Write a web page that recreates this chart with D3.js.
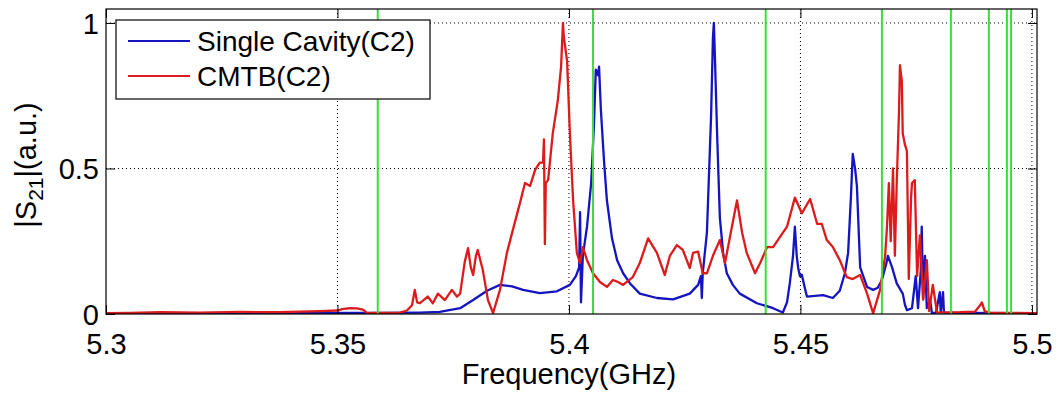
<!DOCTYPE html>
<html>
<head>
<meta charset="utf-8">
<script src="https://cdn.jsdelivr.net/npm/d3@7"></script>
<style>
  body { margin: 0; background: #fff; }
  svg { display: block; font-family: "Liberation Sans", Arial, sans-serif; }
</style>
</head>
<body>
<svg id="drawing_region"></svg>
<script>
// frequency (GHz) and |S21| readings, single cavity
const singleFreq = [5.3, 5.3203, 5.3419, 5.3592, 5.3678, 5.3721, 5.3765, 5.3793, 5.3823, 5.3851,
    5.3877, 5.3901, 5.3937, 5.3974, 5.4002, 5.4015, 5.4022, 5.4024, 5.4026, 5.4030,
    5.4039, 5.4048, 5.4054, 5.4058, 5.4063, 5.4065, 5.4069, 5.4076, 5.4082, 5.4093,
    5.4104, 5.4117, 5.4132, 5.4153, 5.4190, 5.4225, 5.4261, 5.4279, 5.4285, 5.4287,
    5.4289, 5.4298, 5.4307, 5.4311, 5.4313, 5.4315, 5.4320, 5.4326, 5.4333, 5.4341,
    5.4354, 5.4369, 5.4406, 5.4441, 5.4462, 5.4471, 5.4477, 5.4484, 5.4488, 5.4492,
    5.4495, 5.4499, 5.4503, 5.4508, 5.4514, 5.4549, 5.4570, 5.4585, 5.4596, 5.4603,
    5.4609, 5.4613, 5.4618, 5.4622, 5.4629, 5.4644, 5.4657, 5.4667, 5.4676, 5.4685,
    5.4689, 5.4698, 5.4708, 5.4721, 5.4726, 5.4730, 5.4741, 5.4749, 5.4754, 5.4760,
    5.4762, 5.4765, 5.4769, 5.4773, 5.4780, 5.4784, 5.4793, 5.4801, 5.4803, 5.4808,
    5.4810, 5.4844, 5.5011];
const singleVal = [0.003, 0.003, 0.004, 0.004, 0.005, 0.007, 0.02, 0.048, 0.08, 0.1,
    0.095, 0.083, 0.072, 0.078, 0.1, 0.13, 0.16, 0.35, 0.04, 0.2,
    0.3, 0.45, 0.65, 0.84, 0.82, 0.85, 0.7, 0.52, 0.39, 0.26,
    0.185, 0.14, 0.105, 0.07, 0.055, 0.05, 0.07, 0.1, 0.13, 0.055,
    0.14, 0.28, 0.68, 0.95, 1.0, 0.9, 0.62, 0.33, 0.21, 0.14,
    0.1, 0.07, 0.037, 0.02, 0.005, 0.04, 0.105, 0.2, 0.3, 0.2,
    0.16, 0.13, 0.135, 0.1, 0.06, 0.065, 0.055, 0.08, 0.14, 0.21,
    0.4, 0.55, 0.5, 0.44, 0.16, 0.093, 0.083, 0.09, 0.117, 0.17,
    0.2, 0.16, 0.105, 0.07, 0.03, 0.013, 0.02, 0.13, 0.02, 0.15,
    0.3, 0.05, 0.2, 0.02, 0.05, 0.003, 0.005, 0.075, 0.005, 0.075,
    0.005, 0.004, 0.003];

// frequency (GHz) and |S21| readings, CMTB
const cmtbFreq = [5.3, 5.3052, 5.3117, 5.3203, 5.3289, 5.3376, 5.3419, 5.3462, 5.3501, 5.3510,
    5.3527, 5.3542, 5.3555, 5.3564, 5.3577, 5.3635, 5.3650, 5.3661, 5.3667, 5.3672,
    5.3678, 5.3695, 5.3706, 5.3717, 5.3732, 5.3747, 5.3758, 5.3765, 5.3775, 5.3782,
    5.3788, 5.3793, 5.3799, 5.3803, 5.3814, 5.3825, 5.3836, 5.3851, 5.3866, 5.3879,
    5.3894, 5.3905, 5.3916, 5.3927, 5.3937, 5.3944, 5.3946, 5.3948, 5.3950, 5.3955,
    5.3965, 5.3976, 5.3983, 5.3987, 5.3989, 5.3996, 5.4002, 5.4009, 5.4017, 5.4024,
    5.4030, 5.4039, 5.4052, 5.4067, 5.4082, 5.4095, 5.4106, 5.4117, 5.4138, 5.4153,
    5.4171, 5.4190, 5.4207, 5.4218, 5.4233, 5.4246, 5.4261, 5.4268, 5.4279, 5.4289,
    5.4298, 5.4311, 5.4326, 5.4337, 5.4352, 5.4363, 5.4374, 5.4384, 5.4402, 5.4413,
    5.4428, 5.4441, 5.4456, 5.4471, 5.4488, 5.4503, 5.4521, 5.4536, 5.4546, 5.4557,
    5.4570, 5.4585, 5.4600, 5.4613, 5.4629, 5.4644, 5.4657, 5.4672, 5.4683, 5.4687,
    5.4691, 5.4695, 5.4700, 5.4704, 5.4708, 5.4713, 5.4715, 5.4719, 5.4721, 5.4726,
    5.4730, 5.4734, 5.4739, 5.4741, 5.4747, 5.4752, 5.4758, 5.4765, 5.4773, 5.4778,
    5.4786, 5.4795, 5.4844, 5.4877, 5.4888, 5.4892, 5.4898, 5.4909, 5.5011];
const cmtbVal = [0.003, 0.004, 0.006, 0.005, 0.007, 0.006, 0.008, 0.01, 0.012, 0.017,
    0.02, 0.019, 0.015, 0.003, 0.004, 0.005, 0.012, 0.03, 0.083, 0.04,
    0.037, 0.06, 0.037, 0.07, 0.048, 0.083, 0.06, 0.07, 0.18, 0.226,
    0.16, 0.134, 0.2, 0.22, 0.15, 0.048, 0.003, 0.083, 0.21, 0.29,
    0.38, 0.45, 0.44, 0.495, 0.52, 0.52, 0.6, 0.24, 0.45, 0.46,
    0.62, 0.735, 0.85, 1.0, 0.95, 0.87, 0.62, 0.39, 0.21, 0.175,
    0.23, 0.185, 0.14, 0.11, 0.093, 0.117, 0.11, 0.1, 0.127, 0.175,
    0.26, 0.21, 0.134, 0.2, 0.237, 0.22, 0.158, 0.21, 0.214, 0.14,
    0.14, 0.2, 0.254, 0.175, 0.3, 0.39, 0.28, 0.21, 0.14, 0.175,
    0.23, 0.23, 0.265, 0.3, 0.4, 0.346, 0.395, 0.31, 0.31, 0.254,
    0.23, 0.185, 0.127, 0.12, 0.134, 0.07, 0.002, 0.083, 0.2, 0.3,
    0.45, 0.25, 0.5, 0.2, 0.45, 0.7, 0.855, 0.8, 0.62, 0.58,
    0.56, 0.12, 0.4, 0.45, 0.46, 0.13, 0.27, 0.05, 0.185, 0.01,
    0.1, 0.005, 0.006, 0.008, 0.03, 0.04, 0.01, 0.004, 0.003];

// green marker lines (GHz)
const markerFreq = [5.3587, 5.4052, 5.4425, 5.4676, 5.4825, 5.4907, 5.4946, 5.4955];

const xTicks = [5.3, 5.35, 5.4, 5.45, 5.5];
const xTickLabels = ['5.3', '5.35', '5.4', '5.45', '5.5'];
const yTicks = [0, 0.5, 1];
const yTickLabels = ['0', '0.5', '1'];

const seriesNames = ['Single Cavity(C2)', 'CMTB(C2)'];

const config = {
    width: 1063,
    height: 395,
    margin: {top: 9, right: 26, bottom: 81, left: 106}
};

const svg = d3.select('#drawing_region')
    .attr('width', config.width)
    .attr('height', config.height);

const inner_width = config.width - config.margin.left - config.margin.right;
const inner_height = config.height - config.margin.top - config.margin.bottom;

const chart = svg.append('g')
    .attr('transform', `translate(${config.margin.left}, ${config.margin.top})`);

const xmax = 5.5011;
const ymax = 1.048;
const xscale = d3.scaleLinear().domain([5.3, xmax]).range([0, inner_width]);
const yscale = d3.scaleLinear().domain([0, ymax]).range([inner_height, 0]);

// grid
chart.append('g')
    .selectAll('line')
    .data(xTicks.slice(1))
    .join('line')
    .attr('x1', d => xscale(d)).attr('x2', d => xscale(d))
    .attr('y1', 0).attr('y2', inner_height)
    .attr('stroke', '#000').attr('stroke-width', 1)
    .attr('stroke-dasharray', '1,3');

chart.append('g')
    .selectAll('line')
    .data(yTicks.slice(1))
    .join('line')
    .attr('x1', 0).attr('x2', inner_width)
    .attr('y1', d => yscale(d)).attr('y2', d => yscale(d))
    .attr('stroke', '#000').attr('stroke-width', 1)
    .attr('stroke-dasharray', '1,3');

chart.append('clipPath').attr('id', 'plotclip')
    .append('rect').attr('width', inner_width).attr('height', inner_height);

const plot = chart.append('g').attr('clip-path', 'url(#plotclip)');

const line = d3.line()
    .x(d => xscale(d[0]))
    .y(d => yscale(d[1]));

plot.append('path')
    .datum(d3.zip(singleFreq, singleVal))
    .attr('fill', 'none')
    .attr('stroke', '#1414c0')
    .attr('stroke-width', 2.3)
    .attr('stroke-linejoin', 'round')
    .attr('d', line);

plot.append('path')
    .datum(d3.zip(cmtbFreq, cmtbVal))
    .attr('fill', 'none')
    .attr('stroke', '#dc1c1c')
    .attr('stroke-width', 2.3)
    .attr('stroke-linejoin', 'round')
    .attr('d', line);

plot.append('g')
    .selectAll('line')
    .data(markerFreq)
    .join('line')
    .attr('x1', d => xscale(d)).attr('x2', d => xscale(d))
    .attr('y1', 0).attr('y2', inner_height)
    .attr('stroke', '#3ddc3d').attr('stroke-width', 2);

// axes, ticks inside, box all round
const tickLen = 9;
const xaxis = d3.axisBottom(xscale).tickValues(xTicks)
    .tickFormat((d, i) => xTickLabels[i]).tickSizeInner(-tickLen).tickSizeOuter(0).tickPadding(tickLen + 10);
const yaxis = d3.axisLeft(yscale).tickValues(yTicks)
    .tickFormat((d, i) => yTickLabels[i]).tickSizeInner(-tickLen).tickSizeOuter(0).tickPadding(7);

const xaxis_group = chart.append('g')
    .attr('transform', `translate(0, ${inner_height})`)
    .call(xaxis);
const yaxis_group = chart.append('g').call(yaxis);

chart.append('g')
    .call(d3.axisTop(xscale).tickValues(xTicks).tickFormat('').tickSizeInner(-tickLen).tickSizeOuter(0));
chart.append('g')
    .attr('transform', `translate(${inner_width}, 0)`)
    .call(d3.axisRight(yscale).tickValues(yTicks).tickFormat('').tickSizeInner(-tickLen).tickSizeOuter(0));

chart.selectAll('.domain').remove();
chart.selectAll('.tick line').attr('stroke', '#000');
chart.selectAll('.tick text')
    .attr('fill', '#000')
    .style('font-size', '29px')
    .style('font-family', '"Liberation Sans", Arial, sans-serif');
yaxis_group.selectAll('.tick text').attr('dy', '0.36em');

chart.append('rect')
    .attr('width', inner_width).attr('height', inner_height)
    .attr('fill', 'none').attr('stroke', '#000').attr('stroke-width', 1.2);

// labels
svg.append('text')
    .attr('x', config.margin.left + xscale(5.4))
    .attr('y', 384)
    .attr('text-anchor', 'middle')
    .style('font-size', '29px')
    .text('Frequency(GHz)');

const ylabel = svg.append('text')
    .attr('transform', `translate(36, ${165}) rotate(-90)`)
    .attr('text-anchor', 'middle')
    .style('font-size', '29px');
ylabel.append('tspan').text('|S');
ylabel.append('tspan').attr('dy', 7).style('font-size', '21px').text('21');
ylabel.append('tspan').attr('dy', -7).text('|(a.u.)');

// legend
const legend = svg.append('g').attr('transform', 'translate(116, 20)');
legend.append('rect')
    .attr('width', 314).attr('height', 79)
    .attr('fill', '#fff').attr('stroke', '#000').attr('stroke-width', 1.2);
const legendColors = ['#1414c0', '#dc1c1c'];
const rows = legend.selectAll('g.row')
    .data(seriesNames)
    .join('g')
    .attr('class', 'row')
    .attr('transform', (d, i) => `translate(0, ${21 + i * 35})`);
rows.append('line')
    .attr('x1', 12).attr('x2', 74)
    .attr('stroke', (d, i) => legendColors[i]).attr('stroke-width', 2);
rows.append('text')
    .attr('x', 81).attr('dy', '0.36em')
    .style('font-size', '28px')
    .text(d => d);
</script>
</body>
</html>
